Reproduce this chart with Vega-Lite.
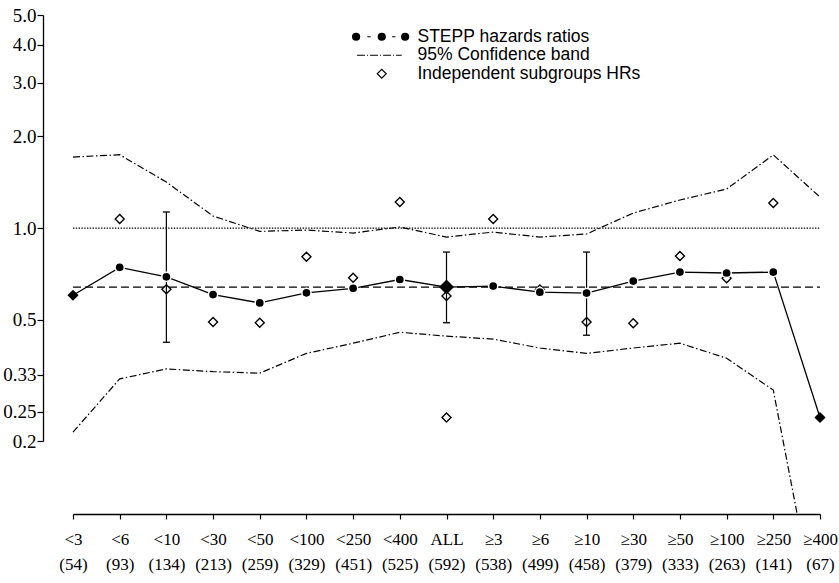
{
  "$schema": "https://vega.github.io/schema/vega-lite/v6.json",
  "width": 777,
  "height": 499,
  "autosize": {"type": "none"},
  "padding": {"left": 43, "top": 15, "right": 19, "bottom": 69},
  "background": "white",
  "datasets": {
    "stepp": [
      {"subgroup": "<3 (54)", "hr": 0.602, "lo": 0.214, "hi": 1.71},
      {"subgroup": "<6 (93)", "hr": 0.743, "lo": 0.320, "hi": 1.74},
      {"subgroup": "<10 (134)", "hr": 0.692, "lo": 0.345, "hi": 1.415},
      {"subgroup": "<30 (213)", "hr": 0.605, "lo": 0.338, "hi": 1.095},
      {"subgroup": "<50 (259)", "hr": 0.568, "lo": 0.334, "hi": 0.975},
      {"subgroup": "<100 (329)", "hr": 0.613, "lo": 0.388, "hi": 0.985},
      {"subgroup": "<250 (451)", "hr": 0.634, "lo": 0.419, "hi": 0.963},
      {"subgroup": "<400 (525)", "hr": 0.678, "lo": 0.455, "hi": 1.008},
      {"subgroup": "ALL (592)", "hr": 0.640, "lo": 0.442, "hi": 0.934},
      {"subgroup": "≥3 (538)", "hr": 0.645, "lo": 0.432, "hi": 0.970},
      {"subgroup": "≥6 (499)", "hr": 0.616, "lo": 0.404, "hi": 0.934},
      {"subgroup": "≥10 (458)", "hr": 0.612, "lo": 0.388, "hi": 0.956},
      {"subgroup": "≥30 (379)", "hr": 0.670, "lo": 0.404, "hi": 1.12},
      {"subgroup": "≥50 (333)", "hr": 0.717, "lo": 0.419, "hi": 1.236},
      {"subgroup": "≥100 (263)", "hr": 0.712, "lo": 0.374, "hi": 1.343},
      {"subgroup": "≥250 (141)", "hr": 0.717, "lo": 0.294, "hi": 1.737},
      {"subgroup": "≥400 (67)", "hr": 0.239, "lo": 0.047, "hi": 1.264}
    ],
    "indep": [
      {"subgroup": "<6 (93)", "hr": 1.070},
      {"subgroup": "<10 (134)", "hr": 0.630},
      {"subgroup": "<30 (213)", "hr": 0.492},
      {"subgroup": "<50 (259)", "hr": 0.489},
      {"subgroup": "<100 (329)", "hr": 0.805},
      {"subgroup": "<250 (451)", "hr": 0.687},
      {"subgroup": "<400 (525)", "hr": 1.217},
      {"subgroup": "ALL (592)", "hr": 0.599},
      {"subgroup": "ALL (592)", "hr": 0.239},
      {"subgroup": "≥3 (538)", "hr": 1.070},
      {"subgroup": "≥6 (499)", "hr": 0.629},
      {"subgroup": "≥10 (458)", "hr": 0.492},
      {"subgroup": "≥30 (379)", "hr": 0.487},
      {"subgroup": "≥50 (333)", "hr": 0.809},
      {"subgroup": "≥100 (263)", "hr": 0.684},
      {"subgroup": "≥250 (141)", "hr": 1.208}
    ],
    "bars": [
      {"subgroup": "<10 (134)", "lo": 0.422, "hi": 1.129},
      {"subgroup": "ALL (592)", "lo": 0.489, "hi": 0.834},
      {"subgroup": "≥10 (458)", "lo": 0.445, "hi": 0.834}
    ]
  },
  "config": {
    "view": {"stroke": null},
    "axis": {
      "grid": false,
      "domainColor": "black",
      "domainWidth": 1.3,
      "tickColor": "black",
      "tickWidth": 1.2,
      "labelColor": "black"
    }
  },
  "encoding": {
    "x": {
      "field": "subgroup",
      "type": "nominal",
      "title": null,
      "scale": {
        "type": "point",
        "padding": 0.3213,
        "align": 1,
        "domain": ["<3 (54)", "<6 (93)", "<10 (134)", "<30 (213)", "<50 (259)", "<100 (329)", "<250 (451)", "<400 (525)", "ALL (592)", "≥3 (538)", "≥6 (499)", "≥10 (458)", "≥30 (379)", "≥50 (333)", "≥100 (263)", "≥250 (141)", "≥400 (67)"]
      },
      "axis": {
        "title": null,
        "labelExpr": "split(datum.label, ' ')",
        "labelFont": "Liberation Serif",
        "labelFontSize": 17,
        "labelLineHeight": 25,
        "labelPadding": 12,
        "labelAngle": 0,
        "tickSize": 5,
        "domainDash": [747, 30],
        "domainDashOffset": 747
      }
    }
  },
  "layer": [
    {
      "data": {"name": "stepp"},
      "mark": {"type": "line", "stroke": "black", "strokeWidth": 1.2, "strokeDash": [7, 2.5, 1.5, 2.5], "clip": true},
      "encoding": {
        "y": {
          "field": "hi", "type": "quantitative", "title": null,
          "scale": {"type": "log", "domain": [0.1153, 5], "nice": false},
          "axis": {
            "title": null,
            "values": [0.2, 0.25, 0.33, 0.5, 1, 2, 3, 4, 5],
            "labelExpr": "datum.value >= 1 ? format(datum.value, '.1f') : toString(datum.value)",
            "labelFont": "Liberation Serif",
            "labelFontSize": 19,
            "labelPadding": 1,
            "tickSize": 6,
            "domainDash": [426, 73],
            "domainDashOffset": 426
          }
        }
      }
    },
    {
      "data": {"name": "stepp"},
      "mark": {"type": "line", "stroke": "black", "strokeWidth": 1.2, "strokeDash": [7, 2.5, 1.5, 2.5], "clip": true},
      "encoding": {
        "y": {"field": "lo", "type": "quantitative", "title": null, "scale": {"type": "log", "domain": [0.1153, 5], "nice": false}}
      }
    },
    {
      "data": {"values": [{"ref": "no effect"}]},
      "mark": {"type": "rule", "color": "black", "strokeWidth": 1.3, "strokeDash": [1.4, 1.4]},
      "encoding": {
        "x": {"datum": "<3 (54)", "type": "nominal"},
        "x2": {"datum": "≥400 (67)"},
        "y": {"datum": 1, "type": "quantitative"}
      }
    },
    {
      "data": {"values": [{"ref": "overall"}]},
      "mark": {"type": "rule", "color": "black", "strokeWidth": 1.4, "strokeDash": [8, 4]},
      "encoding": {
        "x": {"datum": "<3 (54)", "type": "nominal"},
        "x2": {"datum": "≥400 (67)"},
        "y": {"datum": 0.64, "type": "quantitative"}
      }
    },
    {
      "data": {"name": "indep"},
      "mark": {"type": "point", "shape": "diamond", "filled": true, "fill": "white", "strokeWidth": 0, "size": 81, "opacity": 1},
      "encoding": {
        "y": {"field": "hr", "type": "quantitative", "title": null, "scale": {"type": "log", "domain": [0.1153, 5], "nice": false}}
      }
    },
    {
      "data": {"name": "indep"},
      "mark": {"type": "point", "filled": false, "stroke": "black", "strokeWidth": 1.4, "size": 81, "opacity": 1},
      "encoding": {
        "y": {"field": "hr", "type": "quantitative", "title": null, "scale": {"type": "log", "domain": [0.1153, 5], "nice": false}},
        "shape": {
          "datum": "Independent subgroups HRs",
          "type": "nominal",
          "scale": {
            "domain": ["STEPP hazards ratios", "95% Confidence band", "Independent subgroups HRs"],
            "range": [
              "M-6.48,0A0.78,0.78,0,1,0,-4.92,0A0.78,0.78,0,1,0,-6.48,0M-6.28,0A0.58,0.58,0,1,0,-5.12,0A0.58,0.58,0,1,0,-6.28,0M-6.05,0A0.35,0.35,0,1,0,-5.35,0A0.35,0.35,0,1,0,-6.05,0M-5.82,0A0.12,0.12,0,1,0,-5.58,0A0.12,0.12,0,1,0,-5.82,0M-0.78,0A0.78,0.78,0,1,0,0.78,0A0.78,0.78,0,1,0,-0.78,0M-0.58,0A0.58,0.58,0,1,0,0.58,0A0.58,0.58,0,1,0,-0.58,0M-0.35,0A0.35,0.35,0,1,0,0.35,0A0.35,0.35,0,1,0,-0.35,0M-0.12,0A0.12,0.12,0,1,0,0.12,0A0.12,0.12,0,1,0,-0.12,0M4.42,0A0.78,0.78,0,1,0,5.98,0A0.78,0.78,0,1,0,4.42,0M4.62,0A0.58,0.58,0,1,0,5.78,0A0.58,0.58,0,1,0,4.62,0M4.85,0A0.35,0.35,0,1,0,5.55,0A0.35,0.35,0,1,0,4.85,0M5.08,0A0.12,0.12,0,1,0,5.32,0A0.12,0.12,0,1,0,5.08,0M-3.2,0H-2.45M2.3,0H3.05",
              "M-5.49,0H-3.71M-3.27,0H-3.04M-2.6,0H-0.82M-0.38,0H-0.16M0.29,0H2.07M2.51,0H2.73M3.18,0H4.44",
              "M-1,0L0,-1L1,0L0,1Z"
            ]
          },
          "legend": {
            "title": null,
            "orient": "none",
            "legendX": 330,
            "legendY": 13,
            "padding": 0,
            "symbolSize": 81,
            "symbolStrokeWidth": 1.2,
            "symbolStrokeColor": "black",
            "labelFont": "Liberation Sans",
            "labelFontSize": 17.5,
            "labelColor": "black",
            "labelOffset": 27,
            "labelLimit": 400,
            "rowPadding": -0.5
          }
        }
      }
    },
    {
      "data": {"name": "stepp"},
      "mark": {"type": "line", "stroke": "black", "strokeWidth": 1.3},
      "encoding": {
        "y": {"field": "hr", "type": "quantitative", "title": null, "scale": {"type": "log", "domain": [0.1153, 5], "nice": false}}
      }
    },
    {
      "data": {"name": "bars"},
      "mark": {"type": "rule", "color": "black", "strokeWidth": 1.2},
      "encoding": {
        "y": {"field": "lo", "type": "quantitative", "title": null, "scale": {"type": "log", "domain": [0.1153, 5], "nice": false}},
        "y2": {"field": "hi"}
      }
    },
    {
      "data": {"name": "bars"},
      "mark": {"type": "tick", "color": "black", "size": 7, "thickness": 1.3, "opacity": 1},
      "encoding": {
        "y": {"field": "lo", "type": "quantitative", "title": null, "scale": {"type": "log", "domain": [0.1153, 5], "nice": false}}
      }
    },
    {
      "data": {"name": "bars"},
      "mark": {"type": "tick", "color": "black", "size": 7, "thickness": 1.3, "opacity": 1},
      "encoding": {
        "y": {"field": "hi", "type": "quantitative", "title": null, "scale": {"type": "log", "domain": [0.1153, 5], "nice": false}}
      }
    },
    {
      "data": {"name": "stepp"},
      "transform": [{"filter": "datum.subgroup != '<3 (54)' && datum.subgroup != 'ALL (592)' && datum.subgroup != '≥400 (67)'"}],
      "mark": {"type": "point", "shape": "circle", "filled": true, "fill": "black", "stroke": "white", "strokeWidth": 1.5, "size": 85, "opacity": 1},
      "encoding": {
        "y": {"field": "hr", "type": "quantitative", "title": null, "scale": {"type": "log", "domain": [0.1153, 5], "nice": false}}
      }
    },
    {
      "data": {"name": "stepp"},
      "transform": [{"filter": "datum.subgroup == '<3 (54)' || datum.subgroup == '≥400 (67)'"}],
      "mark": {"type": "point", "shape": "diamond", "filled": true, "fill": "black", "strokeWidth": 0, "size": 125, "opacity": 1},
      "encoding": {
        "y": {"field": "hr", "type": "quantitative", "title": null, "scale": {"type": "log", "domain": [0.1153, 5], "nice": false}}
      }
    },
    {
      "data": {"name": "stepp"},
      "transform": [{"filter": "datum.subgroup == 'ALL (592)'"}],
      "mark": {"type": "point", "shape": "diamond", "filled": true, "fill": "black", "strokeWidth": 0, "size": 225, "opacity": 1},
      "encoding": {
        "y": {"field": "hr", "type": "quantitative", "title": null, "scale": {"type": "log", "domain": [0.1153, 5], "nice": false}}
      }
    }
  ]
}
